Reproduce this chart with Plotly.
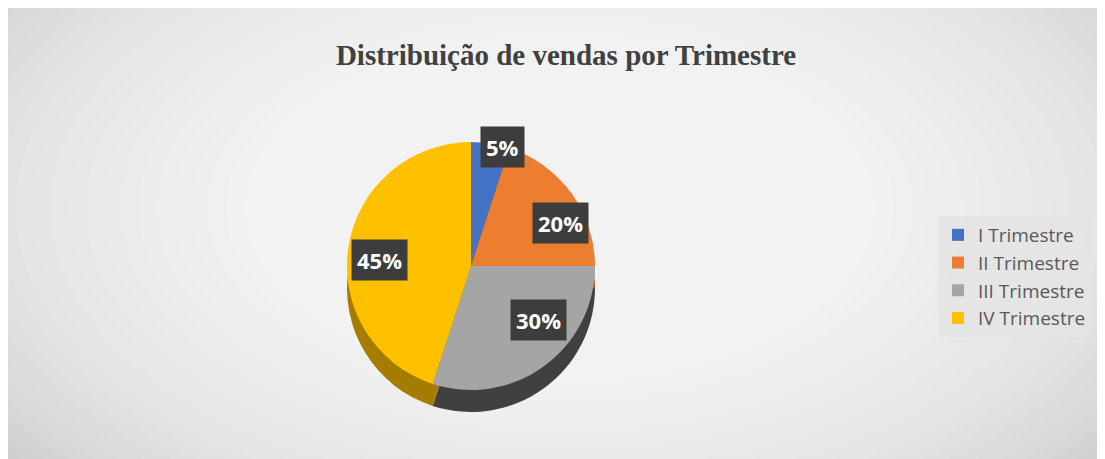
import numpy as np
import plotly.graph_objects as go

# dados
trimestres = ["I Trimestre", "II Trimestre", "III Trimestre", "IV Trimestre"]
vendas_pct = [5, 20, 30, 45]
cores = ["#4472c4", "#ed7d31", "#a5a5a5", "#ffc000"]
cores_lado = ["#2f5597", "#a9561c", "#404040", "#a67c00"]
rotulos = ["5%", "20%", "30%", "45%"]

W, H = 1105, 459
cx, cy, R = 463, 258, 124   # centro e raio da pizza (px)
espessura = 22              # "profundidade" do efeito 3D


def dominio(cx_px, cy_px, r):
    cy_b = H - cy_px
    return dict(x=[(cx_px - r) / W, (cx_px + r) / W],
                y=[(cy_b - r) / H, (cy_b + r) / H])


fig = go.Figure()

# lado da pizza (cópia escura deslocada para baixo)
fig.add_trace(go.Pie(
    labels=trimestres, values=vendas_pct, sort=False,
    direction="clockwise", rotation=0,
    marker=dict(colors=cores_lado, line=dict(width=0)),
    textinfo="none", hoverinfo="skip", showlegend=False,
    domain=dominio(cx, cy + espessura, R),
))

# topo da pizza
fig.add_trace(go.Pie(
    labels=trimestres, values=vendas_pct, sort=False,
    direction="clockwise", rotation=0,
    marker=dict(colors=cores, line=dict(width=0)),
    textinfo="none",
    domain=dominio(cx, cy, R),
))

# centro real desenhado (o plotly desloca ligeiramente)
cxr, cyr = cx + 8, cy + 7

# rótulos de dados com caixa escura
total = sum(vendas_pct)
acum = np.cumsum([0] + vendas_pct[:-1])
for i, (v, a) in enumerate(zip(vendas_pct, acum)):
    ang = np.deg2rad((a + v / 2) / total * 360)
    fr = 1.2 if v < 10 else 0.68
    px_ = cxr + fr * R * np.sin(ang) * (1.2 if v >= 10 else 1)
    py_ = cyr - fr * R * np.cos(ang)
    fig.add_annotation(
        x=px_ / W, y=1 - py_ / H, xref="paper", yref="paper",
        text="<b>" + rotulos[i] + "</b>", showarrow=False,
        font=dict(family="Open Sans", size=22, color="white"),
        bgcolor="#3d3d3d", borderpad=5,
    )

# fundo em degradê radial (elipses sobrepostas)
shapes = []
n = 40
for k in np.linspace(1.0, 0.05, n):
    rx, ry = 720 * k, 400 * k
    shapes.append(dict(
        type="circle", xref="paper", yref="paper", layer="below",
        x0=(552 - rx) / W, x1=(552 + rx) / W,
        y0=(H - 200 - ry) / H, y1=(H - 200 + ry) / H,
        fillcolor="white", opacity=0.07, line=dict(width=0),
    ))

fig.update_layout(
    width=W, height=H,
    margin=dict(l=0, r=0, t=0, b=0),
    paper_bgcolor="#cbcbcb",
    shapes=shapes,
    title=dict(
        text="<b>Distribuição de vendas por Trimestre</b>",
        x=0.505, y=1 - 47 / H, xanchor="center", yanchor="middle",
        font=dict(family="Liberation Serif", size=29, color="#404040"),
    ),
    legend=dict(
        x=930 / W, y=1 - 208 / H, xanchor="left", yanchor="top",
        bgcolor="rgba(228,228,228,0.85)",
        font=dict(family="Open Sans", size=19, color="#595959"),
        itemwidth=30,
    ),
)

fig.write_html("out.html")
